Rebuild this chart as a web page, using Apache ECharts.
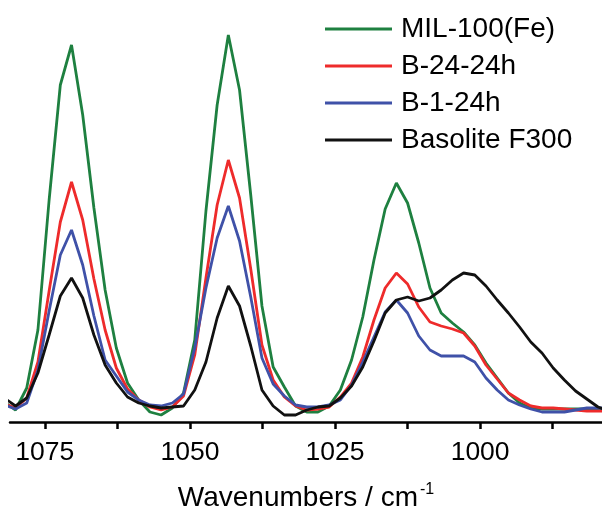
<!DOCTYPE html>
<html>
<head>
<meta charset="utf-8">
<script src="https://cdn.jsdelivr.net/npm/echarts@6/dist/echarts.min.js"></script>
<style>
  html, body { margin: 0; padding: 0; background: #fff; }
  #chart { width: 602px; height: 517px; }
</style>
</head>
<body>
<div id="chart"></div>
<script>
// wavenumber grid (cm-1)
const wavenumbers = [
  1081.98, 1080.05, 1078.12, 1076.19, 1074.26, 1072.33, 1070.40, 1068.47, 1066.54, 1064.61,
  1062.68, 1060.75, 1058.82, 1056.89, 1054.96, 1053.03, 1051.10, 1049.17, 1047.24, 1045.31,
  1043.38, 1041.45, 1039.52, 1037.59, 1035.66, 1033.73, 1031.80, 1029.87, 1027.94, 1026.01,
  1024.08, 1022.15, 1020.22, 1018.29, 1016.36, 1014.43, 1012.50, 1010.57, 1008.64, 1006.71,
  1004.78, 1002.85, 1000.92, 998.99, 997.06, 995.13, 993.20, 991.27, 989.34, 987.41,
  985.48, 983.55, 981.62, 979.69, 977.76
];

// absorbance (arbitrary units)
const mil100 = [
  20, 12, 34, 92, 222, 337, 377, 307, 214, 132,
  74, 39, 22, 10, 7, 14, 29, 82, 211, 317,
  387, 332, 227, 116, 55, 35, 16, 10, 10, 16,
  32, 62, 105, 162, 213, 239, 219, 179, 134, 109,
  99, 90, 77, 59, 44, 29, 19, 14, 13, 13,
  13, 13, 13, 13, 13
];
const b24 = [
  18, 14, 24, 60, 131, 200, 240, 202, 143, 92,
  54, 33, 22, 15, 12, 15, 26, 67, 144, 217,
  262, 224, 153, 77, 42, 25, 16, 12, 13, 15,
  25, 39, 65, 102, 134, 149, 138, 115, 100, 96,
  93, 89, 76, 57, 43, 29, 22, 16, 14, 14,
  13, 12, 11, 11, 11
];
const b1 = [
  17, 13, 19, 52, 111, 167, 192, 157, 106, 62,
  46, 30, 22, 17, 16, 19, 28, 74, 134, 184,
  216, 181, 125, 64, 38, 26, 17, 15, 15, 17,
  22, 37, 60, 85, 110, 122, 109, 86, 72, 66,
  66, 66, 60, 44, 32, 22, 17, 13, 10, 10,
  10, 12, 14, 14, 14
];
const basolite = [
  24, 16, 24, 49, 87, 126, 144, 124, 87, 57,
  39, 25, 19, 16, 14, 15, 16, 32, 60, 104,
  136, 116, 76, 32, 16, 7, 7, 12, 15, 16,
  24, 36, 55, 81, 109, 122, 125, 121, 124, 132,
  142, 149, 147, 136, 122, 109, 95, 80, 69, 54,
  42, 31, 23, 15, 11
];

const seriesNames = ["MIL-100(Fe)", "B-24-24h", "B-1-24h", "Basolite F300"];
const seriesColors = ["#1e8040", "#ee2b2b", "#3f51a8", "#111111"];
const seriesValues = [mil100, b24, b1, basolite];

const tickValues = [1075, 1062.5, 1050, 1037.5, 1025, 1012.5, 1000, 987.5];
const labelValues = [1075, 1050, 1025, 1000];

const font = "'Liberation Sans', Arial, sans-serif";

const chart = echarts.init(document.getElementById("chart"));
chart.setOption({
  animation: false,
  grid: { left: 10, right: 0, top: 0, bottom: 95 },
  legend: {
    orient: "vertical",
    left: 320,
    top: 10,
    icon: "rect",
    itemWidth: 67,
    itemHeight: 3,
    itemGap: 9,
    data: seriesNames,
    textStyle: {
      fontFamily: font,
      fontSize: 28,
      lineHeight: 28,
      color: "#000",
      padding: [0, 0, 0, 4]
    }
  },
  xAxis: {
    type: "value",
    inverse: true,
    min: 979,
    max: 1081,
    splitLine: { show: false },
    axisLine: { lineStyle: { color: "#000", width: 2.5 } },
    axisTick: {
      customValues: tickValues,
      length: 7,
      lineStyle: { color: "#000", width: 2.5 }
    },
    axisLabel: {
      customValues: labelValues,
      formatter: (v) => String(v),
      margin: 17,
      fontFamily: font,
      fontSize: 26.5,
      color: "#000"
    },
    name: "{a|Wavenumbers / cm}{s|-1}",
    nameLocation: "middle",
    nameGap: 60,
    nameTextStyle: {
      rich: {
        a: { fontFamily: font, fontSize: 28, color: "#000", lineHeight: 30, verticalAlign: "bottom" },
        s: { fontFamily: font, fontSize: 16, color: "#000", lineHeight: 30, verticalAlign: "top", padding: [0, 0, 0, 2] }
      }
    }
  },
  yAxis: {
    type: "value",
    min: 0,
    max: 422,
    show: false
  },
  series: seriesNames.map((name, i) => ({
    name,
    type: "line",
    data: wavenumbers.map((w, j) => [w, seriesValues[i][j]]),
    showSymbol: false,
    symbol: "none",
    lineStyle: { color: seriesColors[i], width: 2.8 },
    itemStyle: { color: seriesColors[i] }
  }))
});
</script>
</body>
</html>
